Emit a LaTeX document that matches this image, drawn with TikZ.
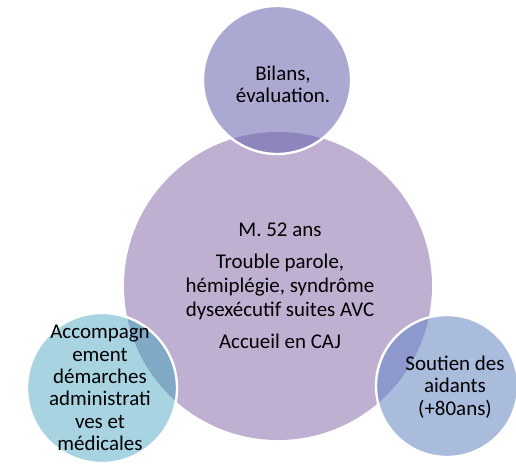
\documentclass[tikz,border=0pt]{standalone}
\usepackage{fontspec}
\setmainfont{Carlito}
\usepackage{tikz}

\definecolor{centre}{RGB}{191,176,210}
\definecolor{bilan}{RGB}{171,168,210}
\definecolor{bilanlens}{RGB}{143,133,189}
\definecolor{accomp}{RGB}{168,212,226}
\definecolor{accomplens}{RGB}{127,169,197}
\definecolor{soutien}{RGB}{169,188,220}
\definecolor{soutienlens}{RGB}{141,152,204}

\tikzset{
  txt/.style={align=center, text=black, font=\fontsize{17.8}{19}\selectfont},
  bord/.style={draw=white, line width=2pt}
}

\begin{document}
\begin{tikzpicture}[x=0.85pt, y=-0.85pt]
   \useasboundingbox (0,0) rectangle (516,463);

   % cercle central
   \fill[centre] (278,286) circle (154);

   % Bilans
   \fill[bilan] (277,80) circle (74);
   \begin{scope}
     \clip (278,286) circle (154);
     \fill[bilanlens] (277,80) circle (74);
   \end{scope}
   \draw[bord] (277,80) circle (74);

   % Accompagnement
   \fill[accomp] (102,388) circle (75);
   \begin{scope}
     \clip (278,286) circle (154);
     \fill[accomplens] (102,388) circle (75);
   \end{scope}
   \draw[bord] (102,388) circle (75);

   % Soutien
   \fill[soutien] (447,386) circle (71);
   \begin{scope}
     \clip (278,286) circle (154);
     \fill[soutienlens] (447,386) circle (71);
   \end{scope}
   \draw[bord] (447,386) circle (71);

   % textes
   \node[txt] (bilans) at (283,84) {Bilans,\\évaluation.};
   \node[txt, font=\fontsize{17.8}{20.4}\selectfont] (patient) at (280,286)
     {M. 52 ans\\[6.8pt] Trouble parole,\\hémiplégie, syndrôme\\dysexécutif suites AVC\\[6.8pt] Accueil en CAJ};
   \node[txt] (accompagnement) at (100,388)
     {Accompagn\\ement\\démarches\\administrati\\ves et\\médicales};
   \node[txt] (soutien) at (455,387) {Soutien des\\aidants\\(+80ans)};
\end{tikzpicture}
\end{document}
